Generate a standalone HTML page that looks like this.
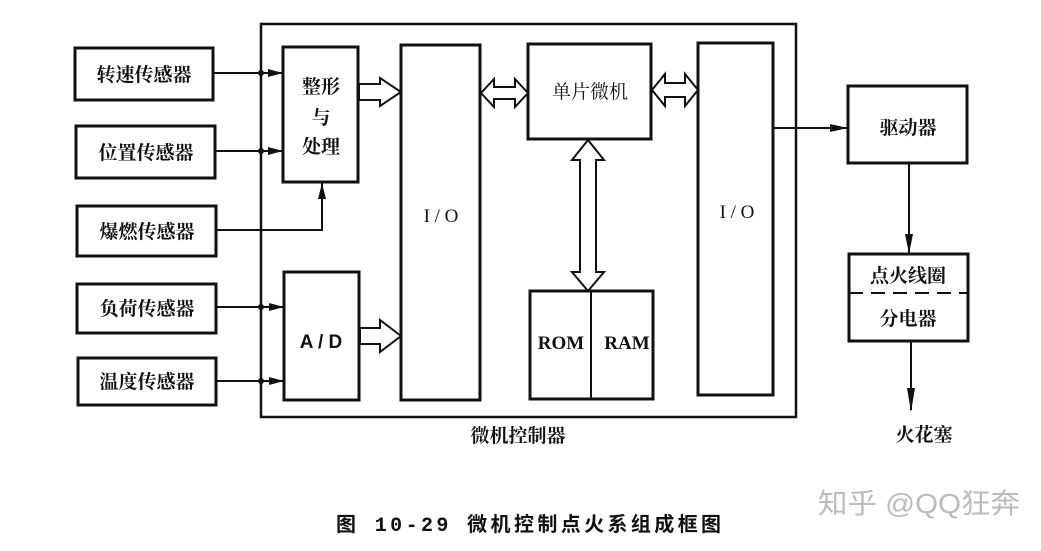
<!DOCTYPE html>
<html><head><meta charset="utf-8"><style>
body{margin:0;background:#fff;}
svg{display:block;}
text{font-family:"Liberation Serif","Noto Serif CJK SC","Noto Sans CJK SC",serif;fill:#111;}
.c{font-family:"Liberation Sans","Noto Sans CJK SC",sans-serif;font-weight:bold;font-size:19px;}
</style></head><body>
<svg width="1041" height="551" viewBox="0 0 1041 551" xmlns="http://www.w3.org/2000/svg">
<g fill="none" stroke="#111" stroke-width="3">
<rect x="261" y="24" width="535" height="393" stroke-width="2.5"/>
<rect x="75" y="48" width="138" height="52"/>
<rect x="76" y="126" width="139" height="52"/>
<rect x="77" y="206" width="139" height="50"/>
<rect x="77" y="284" width="139" height="49"/>
<rect x="78" y="358" width="138" height="47"/>
<rect x="283" y="47" width="75" height="135"/>
<rect x="284" y="272" width="75" height="128"/>
<rect x="401" y="45" width="79" height="355"/>
<rect x="528" y="44" width="123" height="95"/>
<rect x="530" y="291" width="123" height="108"/>
<rect x="698" y="43" width="75" height="352"/>
<rect x="848" y="86" width="119" height="77"/>
<rect x="849" y="254" width="119" height="87"/>
</g>
<g stroke="#111" stroke-width="2" fill="none">
<line x1="591" y1="291" x2="591" y2="399"/>
<line x1="849" y1="293" x2="968" y2="293" stroke-dasharray="14,8"/>
<line x1="213" y1="73" x2="283" y2="73"/>
<line x1="215" y1="151" x2="283" y2="151"/>
<polyline points="216,230 322,230 322,182"/>
<line x1="216" y1="307" x2="284" y2="307"/>
<line x1="216" y1="381" x2="284" y2="381"/>
<line x1="773" y1="128" x2="848" y2="128"/>
<line x1="909" y1="163" x2="909" y2="254"/>
<line x1="911" y1="341" x2="911" y2="410"/>
</g>
<g fill="#111">
<circle cx="261" cy="73" r="3"/><circle cx="261" cy="151" r="3"/>
<circle cx="261" cy="307" r="3"/><circle cx="261" cy="381" r="3"/>
<polygon points="283,73 268,69 268,77"/><polygon points="283,151 268,147 268,155"/>
<polygon points="284,307 269,303 269,311"/><polygon points="284,381 269,377 269,385"/>
<polygon points="322,183 318,199 326,199"/>
<polygon points="848,128 830,124 830,132"/>
<polygon points="909,254 905,234 913,234"/>
<polygon points="911,412 907,388 915,388"/>
</g>
<g fill="#fff" stroke="#111" stroke-width="2">
<polygon points="359,84 380,84 380,78 401,92 380,106 380,100 359,100"/>
<polygon points="360,328 380,328 380,320 401,336 380,352 380,344 360,344"/>
<polygon points="481,93 494,79 494,87 515,87 515,79 528,93 515,107 515,99 494,99 494,107"/>
<polygon points="652,90 665,74 665,83 685,83 685,74 698,90 685,106 685,97 665,97 665,106"/>
<polygon points="588,140 604,160 596,160 596,272 604,272 588,291 572,272 580,272 580,160 572,160"/>
</g>
<g class="c" text-anchor="middle">
<text x="144" y="81">转速传感器</text>
<text x="146" y="159">位置传感器</text>
<text x="147" y="238">爆燃传感器</text>
<text x="147" y="315">负荷传感器</text>
<text x="147" y="388">温度传感器</text>
<text x="321" y="93">整形</text>
<text x="321" y="124">与</text>
<text x="321" y="153">处理</text>
<text x="590" y="98" font-weight="normal">单片微机</text>
<text x="908" y="134">驱动器</text>
<text x="908" y="282">点火线圈</text>
<text x="908" y="325">分电器</text>
<text x="924" y="441">火花塞</text>
<text x="518" y="442">微机控制器</text>
</g>
<g text-anchor="middle" font-size="19">
<text x="441" y="222">I / O</text>
<text x="737" y="218">I / O</text>
<text x="321" y="348" font-weight="bold" style="font-family:'Liberation Sans',sans-serif">A / D</text>
<text x="561" y="349" font-weight="bold">ROM</text>
<text x="627" y="349" font-weight="bold">RAM</text>
</g>
<text x="336" y="531" font-size="20" textLength="385" lengthAdjust="spacing" style="font-family:'Liberation Mono','Noto Sans CJK SC',monospace" font-weight="bold">图 10-29  微机控制点火系组成框图</text>
<text x="818" y="513" font-size="28" textLength="202" lengthAdjust="spacingAndGlyphs" style="font-family:'Liberation Sans','Noto Sans CJK SC',sans-serif;fill:#bbb">知乎 @QQ狂奔</text>
</svg>
</body></html>
